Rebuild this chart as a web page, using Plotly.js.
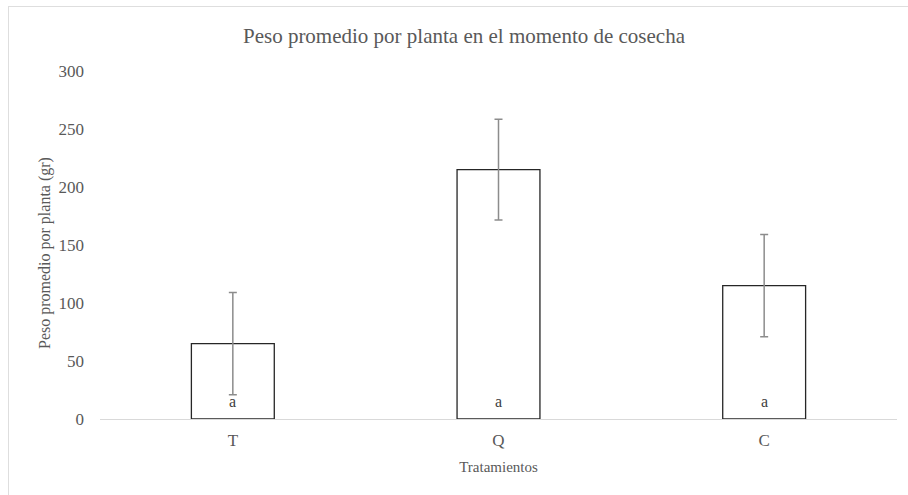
<!DOCTYPE html>
<html>
<head>
<meta charset="utf-8">
<script src="https://cdn.plot.ly/plotly-3.0.1.min.js"></script>
<style>
  html, body { margin: 0; padding: 0; background: #fff; overflow: hidden; }
  #wrap { position: relative; width: 908px; height: 495px; overflow: hidden; }
  #chart { width: 908px; height: 495px; }
  #frame { position: absolute; left: 8px; top: 6px; width: 960px; height: 560px;
           border-top: 1px solid #dedede; border-left: 1px solid #dedede; pointer-events: none; }
</style>
</head>
<body>
<div id="wrap">
  <div id="chart"></div>
  <div id="frame"></div>
</div>
<script>
const categories = ["T", "Q", "C"];
const values = [65, 215, 115];
const errors = [44, 43.5, 44];
const letters = ["a", "a", "a"];
const yTicks = [0, 50, 100, 150, 200, 250, 300];
const yTitle = "Peso promedio por planta (gr)";

const serif = "Liberation Serif";
const gray = "#595959";

const trace = {
  type: "bar",
  x: categories,
  y: values,
  marker: { color: "#ffffff", line: { color: "#262626", width: 1.3 } },
  error_y: { type: "data", array: errors, visible: true, color: "#8c8c8c", thickness: 1.5, width: 4 },
  hoverinfo: "skip"
};

const annotations = categories.map((c, i) => ({
  x: c, y: 15.5, xref: "x", yref: "y", text: letters[i], showarrow: false,
  yanchor: "middle", font: { family: serif, size: 16, color: "#404040" }
}));
annotations.push({
  text: yTitle, xref: "paper", yref: "paper", x: 0, y: 0.5, xanchor: "center", yanchor: "middle",
  xshift: -55, yshift: -8, textangle: -90, showarrow: false,
  font: { family: serif, size: 16, color: gray }
});

const layout = {
  width: 908, height: 495,
  margin: { l: 100, r: 11, t: 71, b: 76 },
  paper_bgcolor: "rgba(0,0,0,0)",
  plot_bgcolor: "#ffffff",
  showlegend: false,
  bargap: 0.688,
  font: { family: serif, color: gray },
  title: { text: "Peso promedio por planta en el momento de cosecha", xref: "container", x: 0.511, xanchor: "center",
           yref: "container", y: 0.928, yanchor: "middle", font: { family: serif, size: 21, color: gray } },
  xaxis: {
    type: "category", showgrid: false, zeroline: false, showline: true, linecolor: "#d9d9d9", linewidth: 1,
    ticks: "", tickfont: { family: serif, size: 17, color: gray }, ticklabelstandoff: 6,
    title: { text: "Tratamientos", font: { family: serif, size: 15, color: gray }, standoff: 12 }
  },
  yaxis: {
    range: [0, 300], tickvals: yTicks, ticktext: yTicks.map(String), showgrid: false, zeroline: false,
    showline: false, ticks: "", tickfont: { family: serif, size: 17, color: gray }, ticklabelstandoff: 15
  },
  annotations: annotations
};

Plotly.newPlot("chart", [trace], layout, { displayModeBar: false, staticPlot: true });
</script>
</body>
</html>
